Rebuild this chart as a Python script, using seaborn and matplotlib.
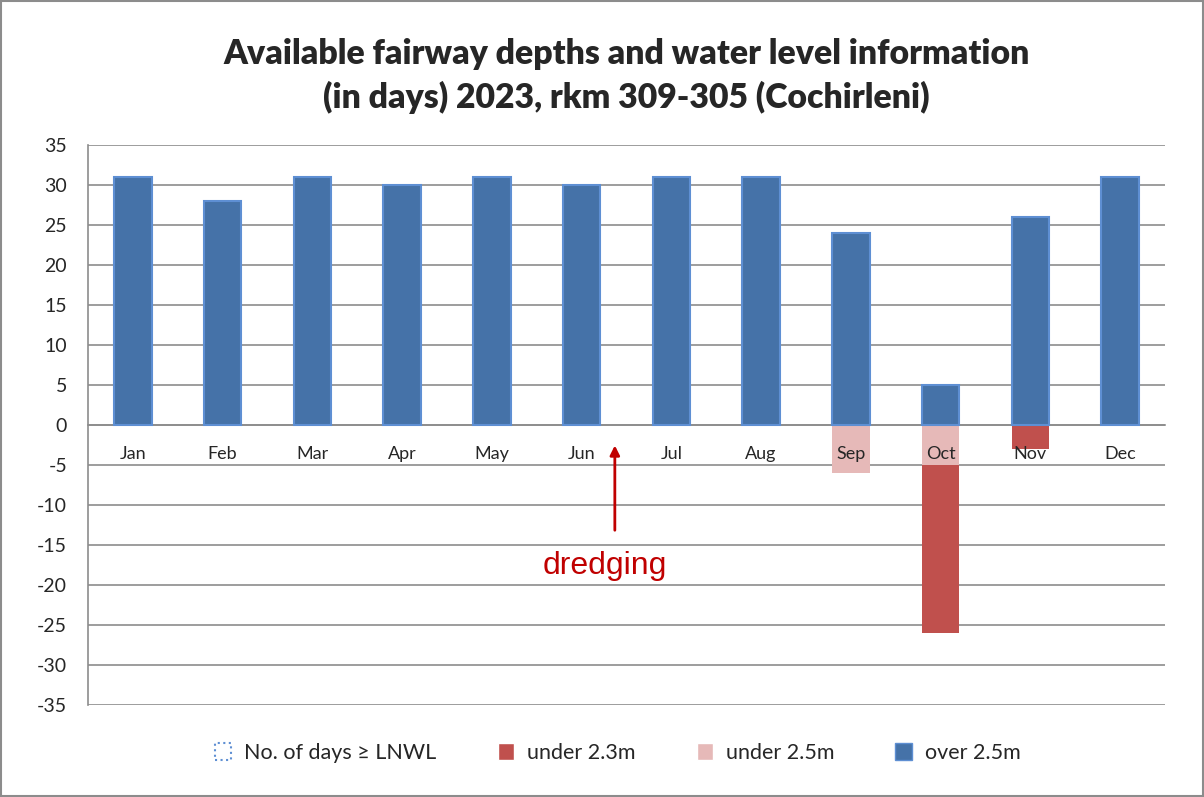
import numpy as np
import matplotlib
matplotlib.use('Agg')
import matplotlib.pyplot as plt
import seaborn as sns
from matplotlib.patches import Patch, Rectangle
from matplotlib.ticker import MultipleLocator, FixedLocator

# data
months = ['Jan', 'Feb', 'Mar', 'Apr', 'May', 'Jun', 'Jul', 'Aug', 'Sep', 'Oct', 'Nov', 'Dec']
over_25 = [31, 28, 31, 30, 31, 30, 31, 31, 24, 5, 26, 31]
under_25 = [0, 0, 0, 0, 0, 0, 0, 0, 6, 5, 0, 0]
under_23 = [0, 0, 0, 0, 0, 0, 0, 0, 0, 21, 3, 0]

blue = '#4572A8'
blue_edge = '#5E8FD3'
red = '#C0504D'
pink = '#E6B9B8'
grid_c = '#8C8C8C'

sns.set_style('white')
plt.rcParams['font.family'] = ['Lato', 'DejaVu Sans']
plt.rcParams['axes.unicode_minus'] = False

fig = plt.figure(figsize=(12.04, 7.97), dpi=100)
ax = fig.add_axes([0.0731, 0.1154, 0.8945, 0.7026])

# negative side drawn as cumulative, pink painted over red
neg_total = [-(a + b) for a, b in zip(under_25, under_23)]
neg_pink = [-a for a in under_25]
sns.barplot(x=months, y=neg_total, color=red, width=0.42, ax=ax,
            saturation=1, linewidth=0, zorder=2)
sns.barplot(x=months, y=neg_pink, color=pink, width=0.42, ax=ax,
            saturation=1, linewidth=0, zorder=2)
sns.barplot(x=months, y=over_25, color=blue, width=0.42, ax=ax,
            saturation=1, edgecolor=blue_edge, linewidth=1.5, zorder=2)

ax.set_ylim(-35, 35)
ax.set_xlim(-0.5, 11.5)
ax.yaxis.set_major_locator(MultipleLocator(5))
ax.grid(axis='y', color=grid_c, linewidth=1.2)
ax.set_axisbelow(True)
ax.xaxis.set_zorder(4)  # month labels sit on top of the bars

for s in ['top', 'right']:
    ax.spines[s].set_visible(False)
ax.spines['left'].set_color(grid_c)
ax.spines['left'].set_linewidth(1.2)
ax.spines['bottom'].set_position(('data', 0))
ax.spines['bottom'].set_color(grid_c)
ax.spines['bottom'].set_linewidth(1.2)
ax.spines['bottom'].set_zorder(1)

ax.tick_params(axis='y', length=6, color=grid_c, width=1.2, labelsize=14, pad=9)
ax.tick_params(axis='x', which='major', length=0, labelsize=13, pad=15)
ax.xaxis.set_minor_locator(FixedLocator(np.arange(0.5, 11.5, 1)))
ax.tick_params(axis='x', which='minor', length=6, color=grid_c, width=1.2)
ax.set_xlabel('')
ax.set_ylabel('')

ax.set_title('Available fairway depths and water level information\n(in days) 2023, rkm 309-305 (Cochirleni)',
             fontsize=24.3, fontweight='heavy', pad=27, linespacing=1.4)

# dredging annotation
ax.annotate('', xy=(5.37, -2.2), xytext=(5.37, -13.5),
            arrowprops=dict(arrowstyle='-|>', color='#C00000', lw=2, mutation_scale=14))
ax.text(5.26, -17.6, 'dredging', color='#C00000', fontsize=23,
        ha='center', va='center', family=['Liberation Sans', 'DejaVu Sans'])

handles = [Patch(facecolor='none', edgecolor=blue_edge, linestyle=':', linewidth=1.5),
           Patch(facecolor=red), Patch(facecolor=pink), Patch(facecolor=blue, edgecolor=blue_edge)]
labels = ['No. of days \u2265 LNWL', 'under 2.3m', 'under 2.5m', 'over 2.5m']
fig.legend(handles, labels, loc='center', bbox_to_anchor=(0.513, 0.055), ncol=4,
           frameon=False, fontsize=15.5, columnspacing=2.85, handlelength=0.75,
           handleheight=0.8, handletextpad=0.6)

fig.patches.append(Rectangle((0.001, 0.001), 0.998, 0.998, transform=fig.transFigure,
                             fill=False, edgecolor=grid_c, linewidth=1.5))

fig.savefig('out.png', dpi=100)
